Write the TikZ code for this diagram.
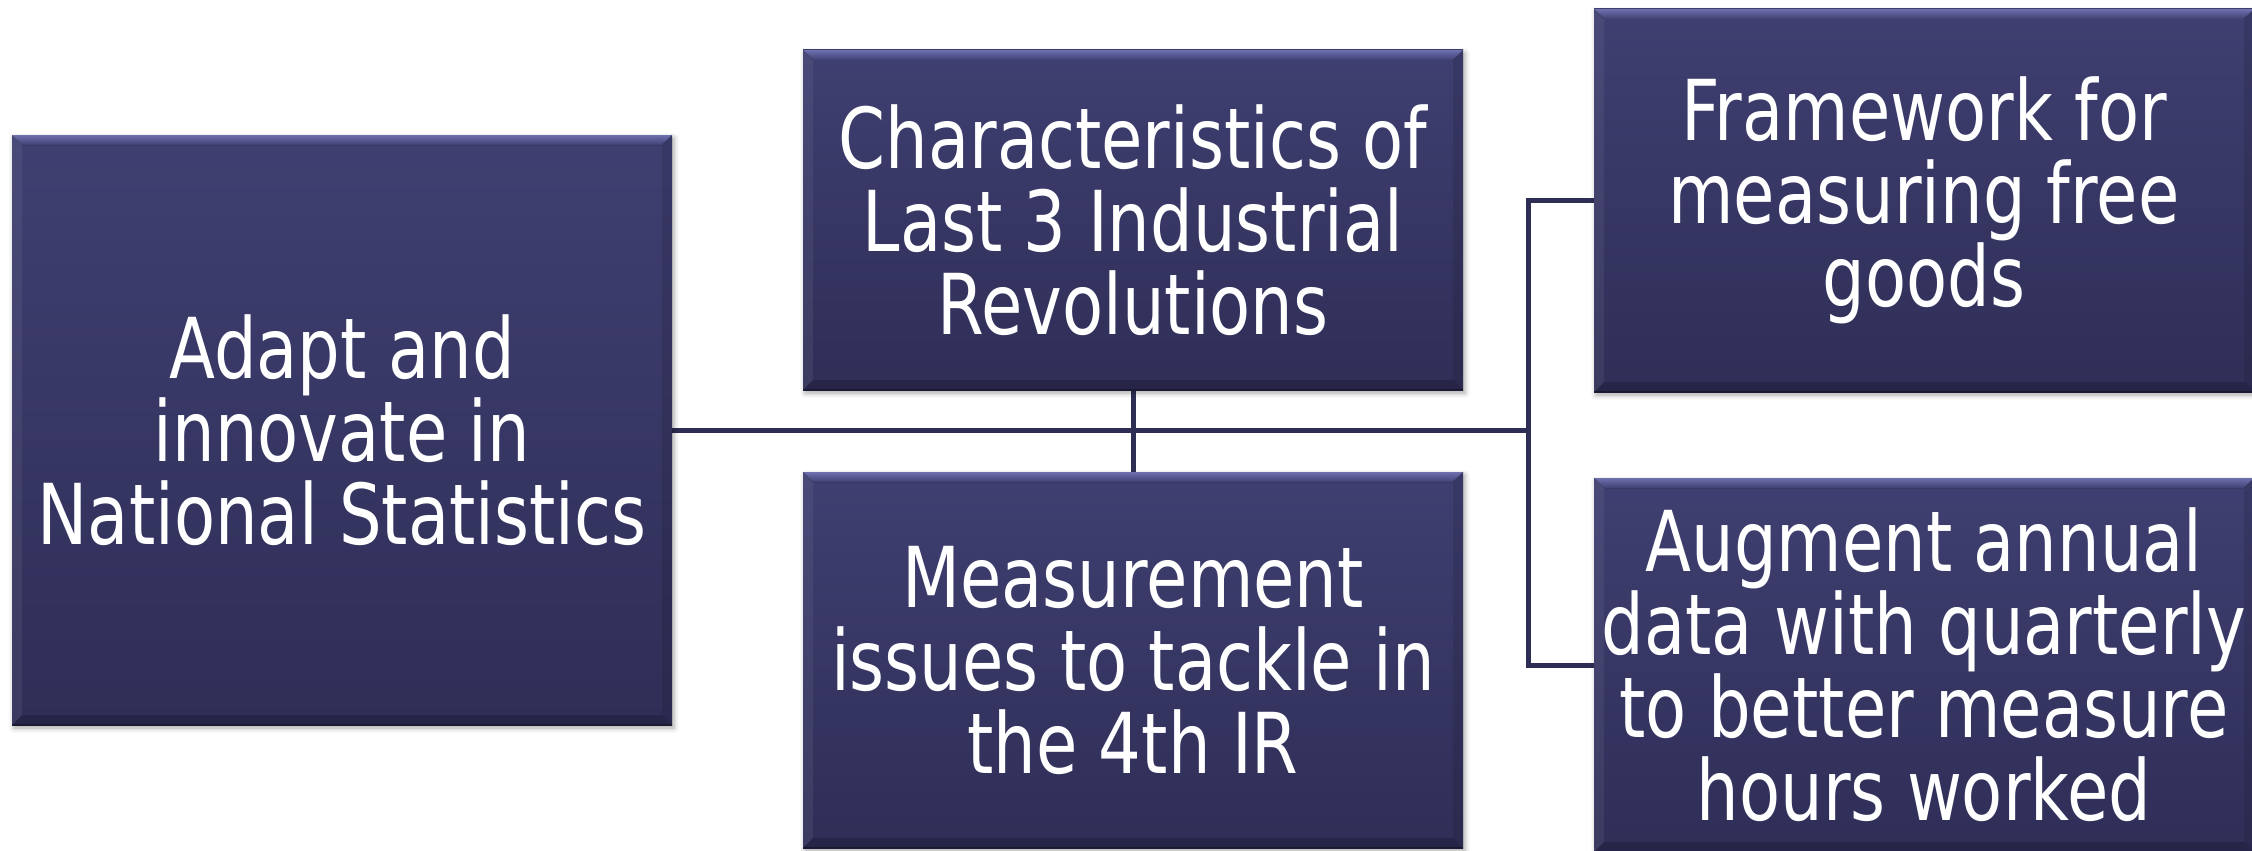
\documentclass[tikz,border=0pt]{standalone}
\usepackage{fontspec}
\newfontfamily\cardfont[FakeStretch=0.8]{DejaVu Sans}
\usetikzlibrary{calc,shadows.blur,backgrounds}
\definecolor{boxtop}{RGB}{63,63,113}
\definecolor{boxbot}{RGB}{47,46,87}
\definecolor{bevlight}{RGB}{110,112,175}
\definecolor{connc}{RGB}{46,45,84}
\begin{document}
\begin{tikzpicture}[x=1pt,y=-1pt,
  card/.style={rectangle, inner sep=0pt, minimum width=660pt, text=white, align=center,
    font=\cardfont\fontsize{84}{83}\selectfont,
    top color=boxtop, bottom color=boxbot,
    blur shadow={shadow xshift=2pt, shadow yshift=-3pt, shadow blur radius=5pt, shadow opacity=35},
    path picture={
      \coordinate (pnw) at (path picture bounding box.north west);
      \coordinate (pne) at (path picture bounding box.north east);
      \coordinate (psw) at (path picture bounding box.south west);
      \coordinate (pse) at (path picture bounding box.south east);
      \fill[top color=bevlight, bottom color=boxtop] (pnw) -- (pne) -- ([xshift=-10pt,yshift=-10pt]pne) -- ([xshift=10pt,yshift=-10pt]pnw) -- cycle;
      \fill[white, opacity=0.06] (pnw) -- ([xshift=10pt,yshift=-10pt]pnw) -- ([xshift=10pt,yshift=10pt]psw) -- (psw) -- cycle;
      \fill[black, opacity=0.10] (pne) -- ([xshift=-10pt,yshift=-10pt]pne) -- ([xshift=-10pt,yshift=10pt]pse) -- (pse) -- cycle;
      \fill[black, opacity=0.18] (psw) -- ([xshift=10pt,yshift=10pt]psw) -- ([xshift=-10pt,yshift=10pt]pse) -- (pse) -- cycle;
      \draw[black, opacity=0.35, line width=2pt] (psw) -- (pse);
    }},
  conn/.style={draw=connc, line width=5pt}]
\useasboundingbox (0,0) rectangle (2252,851);
\node[card, minimum height=590pt] (A) at (342,430) {Adapt and\\innovate in\\National Statistics};
\node[card, minimum height=340pt] (B) at (1133,220) {Characteristics of\\Last 3 Industrial\\Revolutions};
\node[card, minimum height=376pt] (C) at (1133,660) {Measurement\\issues to tackle in\\the 4th IR};
\node[card, minimum height=383pt] (D) at (1924,200.5) {Framework for\\measuring free\\goods};
\node[card, minimum height=374pt] (E) at (1924,665) {Augment annual\\data with quarterly\\to better measure\\hours worked};
\coordinate (J) at (1528,430);
\begin{scope}[on background layer]
  \draw[conn] (A.east) -- (J);
  \draw[conn] (B.south) -- (C.north);
  \draw[conn] (D.west) -| (J) |- (E.west);
\end{scope}
\end{tikzpicture}
\end{document}
